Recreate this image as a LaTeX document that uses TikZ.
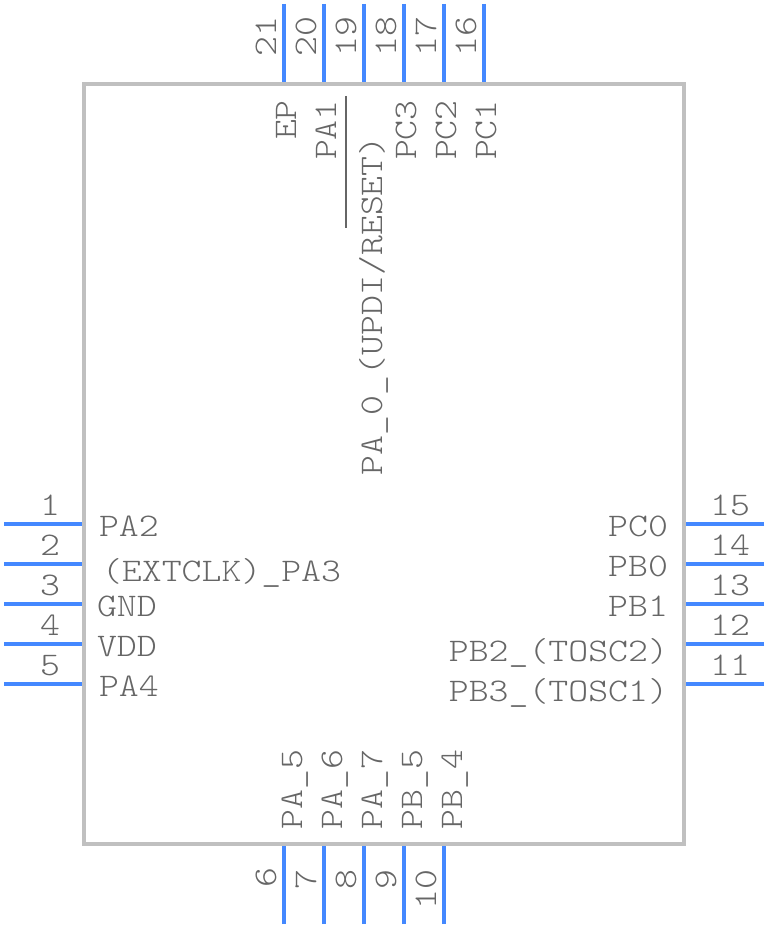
\documentclass[tikz,border=0pt]{standalone}
\usepackage{fontspec}
\newfontfamily\pinfont[FakeStretch=1.15]{Latin Modern Mono Light}
\definecolor{pinblue}{HTML}{4488FF}
\definecolor{bodygray}{HTML}{C0C0C0}
\definecolor{txtgray}{HTML}{666666}
\tikzset{
  pinline/.style={draw=pinblue,line width=4pt},
  bodybox/.style={draw=bodygray,line width=4pt,fill=none},
  lab/.style={inner sep=0pt,outer sep=0pt,text=txtgray,font=\pinfont\fontsize{33}{33}\selectfont},
  lw/.style={lab,anchor=base west},
  le/.style={lab,anchor=base east},
  lc/.style={lab,anchor=base},
  rw/.style={lab,anchor=base west,rotate=90},
  re/.style={lab,anchor=base east,rotate=90},
  rc/.style={lab,anchor=base,rotate=90},
  bar/.style={draw=txtgray,line width=2pt}
}
\begin{document}
\begin{tikzpicture}[x=1pt,y=-1pt]
\useasboundingbox (0,0) rectangle (768,928);
% pin end points
\foreach \n/\y in {1/524,2/564,3/604,4/644,5/684}{
  \coordinate (o\n) at (4,\y); \coordinate (i\n) at (84,\y);
  \draw[pinline] (o\n) -- (i\n);}
\foreach \n/\y in {15/524,14/564,13/604,12/644,11/684}{
  \coordinate (o\n) at (764,\y); \coordinate (i\n) at (684,\y);
  \draw[pinline] (o\n) -- (i\n);}
\foreach \n/\x in {21/284,20/324,19/364,18/404,17/444,16/484}{
  \coordinate (o\n) at (\x,4); \coordinate (i\n) at (\x,84);
  \draw[pinline] (o\n) -- (i\n);}
\foreach \n/\x in {6/284,7/324,8/364,9/404,10/444}{
  \coordinate (o\n) at (\x,924); \coordinate (i\n) at (\x,844);
  \draw[pinline] (o\n) -- (i\n);}
\draw[bodybox] (84,84) rectangle (684,844);
% left numbers and labels
\node[lc] (n1) at (50,515) {1};
\node[lc] (n2) at (50,555) {2};
\node[lc] (n3) at (50,595) {3};
\node[lc] (n4) at (50,635) {4};
\node[lc] (n5) at (50,675) {5};
\node[lw] (l1) at (99,536) {PA2};
\node[lw] (l2) at (102,581) {(EXTCLK)\_PA3};
\node[lw] (l3) at (97,616) {GND};
\node[lw] (l4) at (97,656) {VDD};
\node[lw] (l5) at (99,696) {PA4};
% right numbers and labels
\node[lc] (n15) at (730,515) {15};
\node[lc] (n14) at (730,555) {14};
\node[lc] (n13) at (730,595) {13};
\node[lc] (n12) at (730,635) {12};
\node[lc] (n11) at (730,675) {11};
\node[le] (l15) at (668,536) {PC0};
\node[le] (l14) at (668,576) {PB0};
\node[le] (l13) at (668,616) {PB1};
\node[le] (l12) at (668,661) {PB2\_(TOSC2)};
\node[le] (l11) at (668,701) {PB3\_(TOSC1)};
% top numbers and labels
\node[rc] (n21) at (276,37) {21};
\node[rc] (n20) at (316,37) {20};
\node[rc] (n19) at (356,37) {19};
\node[rc] (n18) at (396,37) {18};
\node[rc] (n17) at (436,37) {17};
\node[rc] (n16) at (476,37) {16};
\node[rw] (l21) at (296,140) {EP};
\node[rw] (l20) at (336,160) {PA1};
\node[rw] (l19) at (382,475) {PA\_0\_(UPDI/RESET)};
\node[rw] (l18) at (416,160) {PC3};
\node[rw] (l17) at (456,160) {PC2};
\node[rw] (l16) at (496,160) {PC1};
\coordinate (ovA) at (346,96);
\coordinate (ovB) at (346,228);
\draw[bar] (ovA) -- (ovB);
% bottom numbers and labels
\node[re] (n6) at (276,868) {6};
\node[re] (n7) at (316,870) {7};
\node[re] (n8) at (356,870) {8};
\node[re] (n9) at (396,870) {9};
\node[re] (n10) at (436,870) {10};
\node[rw] (l6) at (302,829) {PA\_5};
\node[rw] (l7) at (342,829) {PA\_6};
\node[rw] (l8) at (382,829) {PA\_7};
\node[rw] (l9) at (422,829) {PB\_5};
\node[rw] (l10) at (462,829) {PB\_4};
\end{tikzpicture}
\end{document}
